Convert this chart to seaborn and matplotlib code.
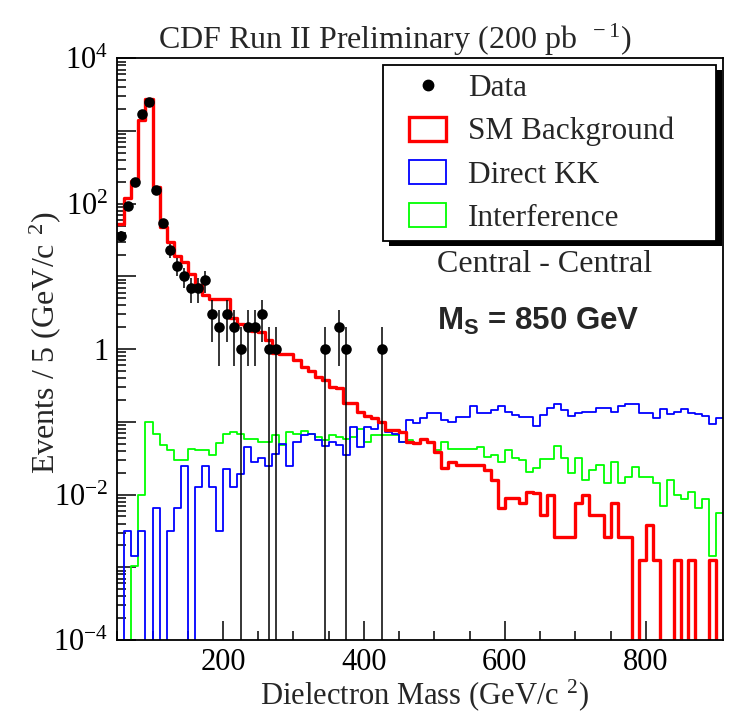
import numpy as np
import pandas as pd
import seaborn as sns
import matplotlib
matplotlib.use("Agg")
import matplotlib.pyplot as plt
from matplotlib.lines import Line2D
from matplotlib.patches import Patch, Rectangle
from matplotlib.ticker import FixedLocator, MultipleLocator, FuncFormatter, NullFormatter
from matplotlib.transforms import IdentityTransform

# Dielectron mass spectrum, 10 GeV bins from 50 to 910 GeV/c^2
bin_edges = list(range(50, 911, 10))

# Observed events per bin (zero bins are not drawn)
data_counts = [36, 93, 200, 1720, 2490, 155, 55, 23, 14, 10,
               7, 7, 9, 3, 2, 3, 2, 1, 2, 2,
               3, 1, 1, 0, 0, 0, 0, 0, 0, 1,
               0, 2, 1, 0, 0, 0, 0, 1] + [0] * 48

# Standard Model Drell-Yan background
sm_background = [53, 121, 205, 1416, 2750, 171, 48, 30, 19, 15.6,
                 10.8, 7.6, 5.5, 4.9, 4.9, 4.9, 2.65, 2.2, 2.1, 1.8,
                 1.7, 1.33, 0.88, 0.87, 0.85, 0.7, 0.57, 0.5, 0.42, 0.38,
                 0.30, 0.29, 0.183, 0.183, 0.138, 0.12, 0.114, 0.10, 0.077, 0.077,
                 0.073, 0.053, 0.051, 0.059, 0.053, 0.039, 0.023, 0.028, 0.0255, 0.0255,
                 0.0255, 0.0255, 0.0217, 0.0158, 0.0065, 0.0089, 0.0089, 0.0076, 0.0109, 0.0104,
                 0.0052, 0.0098, 0.0026, 0.0026, 0.0026, 0.0076, 0.0098, 0.0052, 0.0052, 0.0026,
                 0.0076, 0.0026, 0.0026, 0, 0.00126, 0.0038, 0.00126, 0, 0, 0.00126,
                 0, 0.00126, 0, 0, 0.00126, 0]

# Direct Kaluza-Klein graviton contribution
direct_kk = [0, 0.00315, 0.00144, 0.00315, 0, 0.0065, 0, 0.00315, 0.0065, 0.0249,
             0, 0.0126, 0.0249, 0.0126, 0.00315, 0.0224, 0.0126, 0.019, 0.0446, 0.0283,
             0.0315, 0.0249, 0.036, 0.0495, 0.0249, 0.053, 0.066, 0.069, 0.056, 0.046,
             0.053, 0.048, 0.035, 0.086, 0.045, 0.086, 0.081, 0.095, 0.073, 0.069,
             0.053, 0.106, 0.095, 0.112, 0.131, 0.133, 0.106, 0.10, 0.118, 0.118,
             0.165, 0.131, 0.131, 0.145, 0.165, 0.135, 0.125, 0.118, 0.118, 0.0875,
             0.125, 0.153, 0.174, 0.145, 0.12, 0.131, 0.138, 0.138, 0.153, 0.153,
             0.138, 0.165, 0.174, 0.174, 0.131, 0.131, 0.112, 0.148, 0.127, 0.135,
             0.148, 0.131, 0.127, 0.12, 0.092, 0.112]

# Interference term
interference = [0, 0, 0.00105, 0.0098, 0.1, 0.069, 0.048, 0.041, 0.030, 0.030,
                0.043, 0.041, 0.041, 0.035, 0.051, 0.069, 0.073, 0.069, 0.0575, 0.0575,
                0.053, 0.053, 0.066, 0.048, 0.073, 0.069, 0.076, 0.069, 0.062, 0.056,
                0.065, 0.062, 0.059, 0.062, 0.081, 0.053, 0.066, 0.066, 0.066, 0.066,
                0.053, 0.056, 0.051, 0.056, 0.053, 0.041, 0.053, 0.043, 0.043, 0.043,
                0.043, 0.045, 0.033, 0.035, 0.028, 0.041, 0.0315, 0.030, 0.0206, 0.023,
                0.0305, 0.0305, 0.0465, 0.0315, 0.0195, 0.0315, 0.0158, 0.0217, 0.0255, 0.0143,
                0.028, 0.0146, 0.0176, 0.0237, 0.0176, 0.0176, 0.0143, 0.0070, 0.0158, 0.0098,
                0.0086, 0.011, 0.0065, 0.0086, 0.00143, 0.0056]

x_major = [200, 400, 600, 800]
legend_labels = ["Data", "SM Background", "Direct KK", "Interference"]

edges = np.array(bin_edges, dtype=float)
centers = (edges[:-1] + edges[1:]) / 2
df = pd.DataFrame({"mass": centers, "data": data_counts, "sm": sm_background,
                   "kk": direct_kk, "interf": interference})

sns.set_theme(style="ticks")
plt.rcParams["font.family"] = ["Liberation Serif", "DejaVu Serif"]
plt.rcParams["mathtext.fontset"] = "custom"
plt.rcParams["mathtext.rm"] = "Liberation Serif"
plt.rcParams["mathtext.it"] = "Liberation Serif:italic"
plt.rcParams["mathtext.bf"] = "Liberation Serif:bold"
plt.rcParams["mathtext.sf"] = "Liberation Sans:bold"

W, H = 730, 717
fig = plt.figure(figsize=(W / 100, H / 100), dpi=100)
ax_l, ax_r, ax_t, ax_b = 117.3, 723.3, 58.3, 640.0
ax = fig.add_axes([ax_l / W, 1 - ax_b / H, (ax_r - ax_l) / W, (ax_b - ax_t) / H])
ax.set_yscale("log")

red, blue, green = "#ff0000", "#0000ff", "#00ff00"
hist_kw = dict(x="mass", bins=bin_edges, element="step", fill=False, ax=ax)
sns.histplot(data=df, weights="interf", color=green, linewidth=1.3, **hist_kw)
sns.histplot(data=df, weights="kk", color=blue, linewidth=1.3, **hist_kw)
sns.histplot(data=df, weights="sm", color=red, linewidth=2.4, **hist_kw)

# Data points with Poisson error bars
obs = df[df["data"] > 0]
ax.errorbar(obs["mass"], obs["data"], yerr=np.sqrt(obs["data"]), fmt="none",
            ecolor="black", elinewidth=1.1, capsize=0, zorder=4)
sns.scatterplot(data=obs, x="mass", y="data", color="black", s=58,
                edgecolor="black", linewidth=0, zorder=5, ax=ax)

ax.set_xlim(50, 910)
ax.set_ylim(1e-4, 1e4)
ax.set_xlabel("")
ax.set_ylabel("")

# Axis ticks: inward, on bottom and left only
ax.xaxis.set_major_locator(FixedLocator(x_major))
ax.xaxis.set_minor_locator(MultipleLocator(50))
ax.yaxis.set_major_locator(FixedLocator([10.0 ** k for k in range(-4, 5)]))
ax.yaxis.set_minor_locator(FixedLocator([m * 10.0 ** k for k in range(-4, 4) for m in range(2, 10)]))
ax.yaxis.set_minor_formatter(NullFormatter())


def log_label(v, pos):
    e = int(round(np.log10(v)))
    if e % 2:
        return ""
    if e == 0:
        return "1"
    return r"$10^{%d}$" % e


ax.yaxis.set_major_formatter(FuncFormatter(log_label))
ax.tick_params(axis="both", which="both", direction="in", top=False, right=False,
               colors="black", width=1.1)
ax.tick_params(axis="both", which="major", length=13.5, labelsize=22)
ax.tick_params(axis="both", which="minor", length=6.5)
ax.tick_params(axis="x", which="major", pad=6)
ax.tick_params(axis="y", which="major", pad=6.5)
for s in ax.spines.values():
    s.set_visible(True)
    s.set_color("black")
    s.set_linewidth(1.3)

# Titles
fig.text(395 / W, 1 - 40 / H, r"CDF Run II Preliminary (200 pb$^{\;\;\;-1}$)",
         ha="center", va="center", fontsize=23)
fig.text(425 / W, 1 - 695 / H, r"Dielectron Mass (GeV/c$^{\;\;2}$)",
         ha="center", va="center", fontsize=22)
fig.text(45 / W, 1 - 343 / H, r"Events / 5 (GeV/c$^{\;\;2}$)", rotation=90,
         ha="center", va="center", fontsize=23)

# Legend
handles = [
    Line2D([], [], marker="o", color="black", linestyle="none", markersize=7.5),
    Patch(facecolor="white", edgecolor=red, linewidth=2.4),
    Patch(facecolor="white", edgecolor=blue, linewidth=1.3),
    Patch(facecolor="white", edgecolor=green, linewidth=1.3),
]
x0 = (383 - ax_l) / (ax_r - ax_l)
x1 = (716 - ax_l) / (ax_r - ax_l)
y1 = (ax_b - 65) / (ax_b - ax_t)
leg = ax.legend(handles, legend_labels, loc="upper left",
                bbox_to_anchor=(x0, 0.5, x1 - x0, y1 - 0.5), mode="expand",
                fontsize=22.5, frameon=True, fancybox=False, framealpha=1,
                edgecolor="black", borderpad=0.27, labelspacing=0.43,
                handlelength=1.2, handleheight=0.8, handletextpad=1.25,
                borderaxespad=0)
leg.get_frame().set_linewidth(1.3)
leg.set_zorder(10)

# Move the legend keys a little to the right inside their slots
dx_pt = 12.5
for h in leg.legend_handles:
    if isinstance(h, Rectangle):
        h.set_x(h.get_x() + dx_pt)
    else:
        h.set_xdata(np.asarray(h.get_xdata(), dtype=float) + dx_pt)

fig.canvas.draw()
bb = leg.get_window_extent()
shadow = Rectangle((bb.x0 + 6, bb.y0 - 5), bb.width, bb.height, transform=IdentityTransform(),
                   facecolor="black", edgecolor="none", zorder=9, clip_on=False)
ax.add_artist(shadow)

ax.text(0.705, 1 - (265 - ax_t) / (ax_b - ax_t), "Central - Central", transform=ax.transAxes,
        ha="center", va="center", fontsize=23)
ax.text(0.695, 1 - (321 - ax_t) / (ax_b - ax_t), r"$\mathsf{M_S}$ = 850 GeV", transform=ax.transAxes,
        ha="center", va="center", fontsize=22.5, fontweight="bold",
        family=["Liberation Sans", "DejaVu Sans"])

fig.savefig("out.png", dpi=100, facecolor="white")
